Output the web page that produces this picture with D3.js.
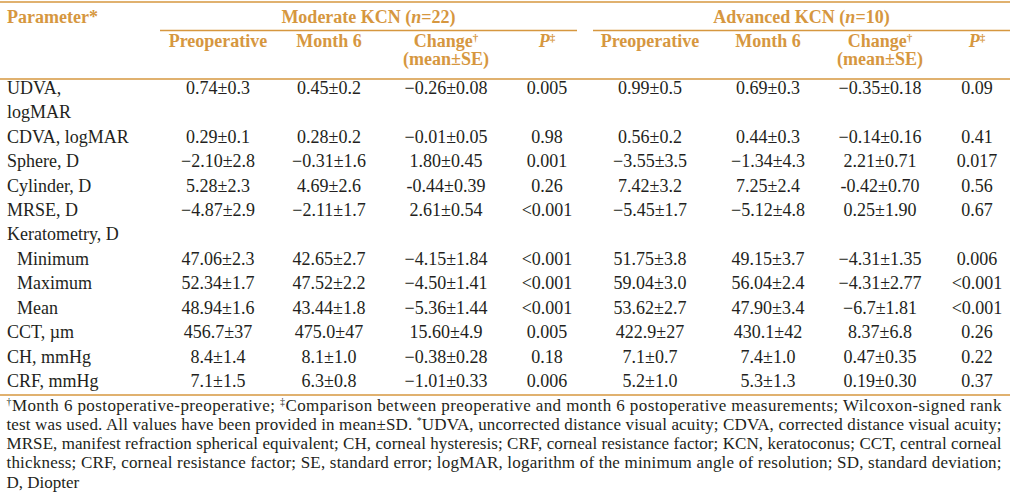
<!DOCTYPE html>
<html><head><meta charset="utf-8">
<script src="https://cdn.jsdelivr.net/npm/d3@7"></script>
<style>
body{margin:0;background:#fff}
svg text{font-family:"Liberation Serif","Times New Roman",serif}
</style>
</head><body>
<svg id="c" width="1010" height="493"></svg>
<script>
// ---------- data ----------
const groups = ["Moderate KCN", "Advanced KCN"];
const groupN = ["22", "10"];
const subHeaders = ["Preoperative", "Month 6", "Change", "P"];
const parameters = ["UDVA,|logMAR", "CDVA, logMAR", "Sphere, D", "Cylinder, D", "MRSE, D",
  "Keratometry, D", "Minimum", "Maximum", "Mean", "CCT, \u00b5m", "CH, mmHg", "CRF, mmHg"];
const subParameter = [0, 0, 0, 0, 0, 0, 1, 1, 1, 0, 0, 0];

const modPre    = ["0.74±0.3", "0.29±0.1", "−2.10±2.8", "5.28±2.3", "−4.87±2.9", "", "47.06±2.3", "52.34±1.7", "48.94±1.6", "456.7±37", "8.4±1.4", "7.1±1.5"];
const modM6     = ["0.45±0.2", "0.28±0.2", "−0.31±1.6", "4.69±2.6", "−2.11±1.7", "", "42.65±2.7", "47.52±2.2", "43.44±1.8", "475.0±47", "8.1±1.0", "6.3±0.8"];
const modChange = ["−0.26±0.08", "−0.01±0.05", "1.80±0.45", "-0.44±0.39", "2.61±0.54", "", "−4.15±1.84", "−4.50±1.41", "−5.36±1.44", "15.60±4.9", "−0.38±0.28", "−1.01±0.33"];
const modP      = ["0.005", "0.98", "0.001", "0.26", "<0.001", "", "<0.001", "<0.001", "<0.001", "0.005", "0.18", "0.006"];
const advPre    = ["0.99±0.5", "0.56±0.2", "−3.55±3.5", "7.42±3.2", "−5.45±1.7", "", "51.75±3.8", "59.04±3.0", "53.62±2.7", "422.9±27", "7.1±0.7", "5.2±1.0"];
const advM6     = ["0.69±0.3", "0.44±0.3", "−1.34±4.3", "7.25±2.4", "−5.12±4.8", "", "49.15±3.7", "56.04±2.4", "47.90±3.4", "430.1±42", "7.4±1.0", "5.3±1.3"];
const advChange = ["−0.35±0.18", "−0.14±0.16", "2.21±0.71", "-0.42±0.70", "0.25±1.90", "", "−4.31±1.35", "−4.31±2.77", "−6.7±1.81", "8.37±6.8", "0.47±0.35", "0.19±0.30"];
const advP      = ["0.09", "0.41", "0.017", "0.56", "0.67", "", "0.006", "<0.001", "<0.001", "0.26", "0.22", "0.37"];

const footnotes = [
  [["sup","†"],["t","Month 6 postoperative-preoperative; "],["sup","‡"],["t","Comparison between preoperative and month 6 postoperative measurements; Wilcoxon-signed rank"]],
  [["t","test was used. All values have been provided in mean±SD. "],["sup","*"],["t","UDVA, uncorrected distance visual acuity; CDVA, corrected distance visual acuity;"]],
  [["t","MRSE, manifest refraction spherical equivalent; CH, corneal hysteresis; CRF, corneal resistance factor; KCN, keratoconus; CCT, central corneal"]],
  [["t","thickness; CRF, corneal resistance factor; SE, standard error; logMAR, logarithm of the minimum angle of resolution; SD, standard deviation;"]],
  [["t","D, Diopter"]]
];
const footJustify = [true, true, true, true, false];

// ---------- layout ----------
const W = 1010;
const orange = "#d6973f";
const ink = "#231f20";
const svg = d3.select("#c");

const colKeys = ["mPre","mM6","mCh","mP","aPre","aM6","aCh","aP"];
const colData = [modPre, modM6, modChange, modP, advPre, advM6, advChange, advP];
const x = d3.scaleOrdinal().domain(colKeys).range([218, 329, 446, 547, 650, 768, 880, 977]);
const groupX = d3.scaleOrdinal().domain(groups).range([[160, 577], [593, 1010]]);

// line index of each parameter row
const lineCount = parameters.map(p => p.split("|").length);
const lineStart = lineCount.map((c, i) => d3.sum(lineCount.slice(0, i)));
const y = d3.scaleLinear().domain([0, 12]).range([88, 381]);
const fy = d3.scaleLinear().domain([0, 4]).range([410.5, 487.5]);

// rules
const rules = [[0, W, 2], [0, W, 79], [0, W, 395]];
svg.selectAll("line.rule").data(rules).join("line")
  .attr("x1", d => d[0]).attr("x2", d => d[1]).attr("y1", d => d[2]).attr("y2", d => d[2])
  .attr("stroke", orange).attr("stroke-width", 1.6);
svg.selectAll("line.grp").data(groups).join("line")
  .attr("x1", d => groupX(d)[0]).attr("x2", d => groupX(d)[1]).attr("y1", 30.5).attr("y2", 30.5)
  .attr("stroke", orange).attr("stroke-width", 1.6);

// header
const hdr = svg.append("g").attr("fill", orange).attr("font-weight", "bold").attr("font-size", 18);
hdr.append("text").attr("x", 7).attr("y", 22.5).text("Parameter*");
groups.forEach((g, i) => {
  const [a, b] = groupX(g);
  const t = hdr.append("text").attr("x", (a + b) / 2).attr("y", 22.5).attr("text-anchor", "middle");
  t.append("tspan").text(g + " (");
  t.append("tspan").attr("font-style", "italic").text("n");
  t.append("tspan").text("=" + groupN[i] + ")");
});
colKeys.forEach((k, i) => {
  const h = subHeaders[i % 4];
  const t = hdr.append("text").attr("x", x(k)).attr("y", 46.5).attr("text-anchor", "middle");
  if (h === "P") {
    t.append("tspan").attr("font-style", "italic").text("P");
    t.append("tspan").attr("font-size", 11).attr("dy", -6).text("‡");
  } else if (h === "Change") {
    t.append("tspan").text("Change");
    t.append("tspan").attr("font-size", 11).attr("dy", -6).text("†");
    hdr.append("text").attr("x", x(k)).attr("y", 64.5).attr("text-anchor", "middle").text("(mean±SE)");
  } else {
    t.text(h);
  }
});

// body
const body = svg.append("g").attr("fill", ink).attr("font-size", 18);
parameters.forEach((p, i) => {
  p.split("|").forEach((line, j) => {
    body.append("text").attr("x", subParameter[i] ? 17 : 7).attr("y", y(lineStart[i] + j)).attr("dy", "0.33em").text(line);
  });
});
colKeys.forEach((k, c) => {
  body.selectAll(null).data(colData[c]).join("text")
    .attr("x", x(k)).attr("y", (d, i) => y(lineStart[i])).attr("dy", "0.33em")
    .attr("text-anchor", "middle").text(d => d);
});

// footnotes
const foot = svg.append("g").attr("fill", ink).attr("font-size", 17);
footnotes.forEach((parts, i) => {
  const t = foot.append("text").attr("x", 6.5).attr("y", fy(i));
  if (footJustify[i]) t.attr("textLength", 995).attr("lengthAdjust", "spacing");
  let shift = 0;
  parts.forEach(([kind, s]) => {
    if (kind === "sup") {
      t.append("tspan").attr("font-size", 10).attr("dy", -6 - shift).text(s);
      shift = -6;
    } else {
      t.append("tspan").attr("dy", -shift).text(s);
      shift = 0;
    }
  });
});
</script>
</body></html>
